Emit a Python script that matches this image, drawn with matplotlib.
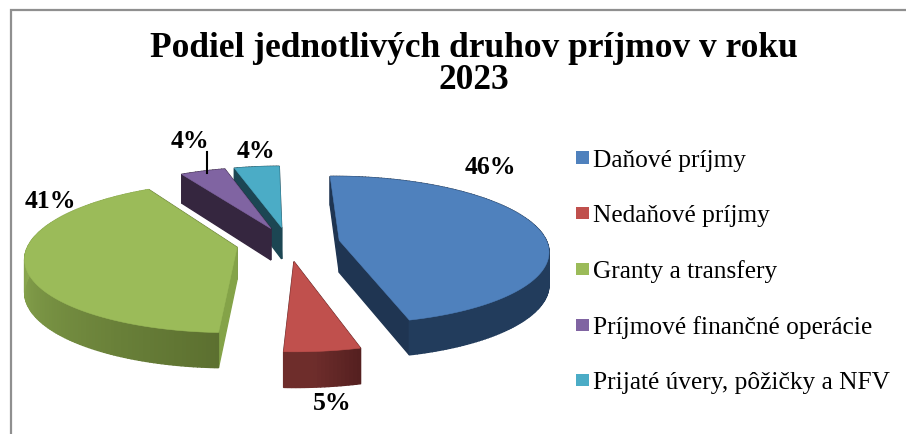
import numpy as np
import matplotlib
matplotlib.use("Agg")
import matplotlib.pyplot as plt
from matplotlib.patches import Polygon, Patch
from matplotlib.colors import to_rgb

categories = ["Daňové príjmy", "Nedaňové príjmy", "Granty a transfery",
              "Príjmové finančné operácie", "Prijaté úvery, pôžičky a NFV"]
values = [46, 5, 41, 4, 4]
title_lines = ["Podiel jednotlivých druhov príjmov v roku", "2023"]

top_colors = ["#4f81bd", "#c0504d", "#9bbb59", "#8064a2", "#4bacc6"]
rim_start = ["#1f3552", "#552020", "#5c7030", "#35263f", "#1c4653"]
rim_end = ["#223c5c", "#6e2d2b", "#8aa84f", "#35263f", "#1c4653"]
edge_colors = ["#1f3552", "#552020", "#84a348", "#35263f", "#1c4653"]

# pie geometry, in pixels of the 906x434 canvas
CX, CY = 288, 243
A, B = 208, 73
PERSP = 0.13
explode = [0.25, 0.25, 0.25, 0.22, 0.22]
START = -1
label_pos = [(490, 168), (332, 404), (50, 202), (190, 141), (256, 152)]


def project(u, v):
    w = 1 + PERSP * v
    return CX + A * u / w, CY - B * v / w


def depth(v):
    return 32 - 3 * v


def mix(c1, c2, t):
    c1, c2 = np.array(to_rgb(c1)), np.array(to_rgb(c2))
    return tuple(c1 + (c2 - c1) * t)


def side_quad(ax, u1, v1, u2, v2, color, zorder):
    x1, y1 = project(u1, v1)
    x2, y2 = project(u2, v2)
    pts = [(x1, y1), (x2, y2), (x2, y2 + depth(v2)), (x1, y1 + depth(v1))]
    ax.add_patch(Polygon(pts, closed=True, fc=color, ec=color, lw=1.0, zorder=zorder))


def draw_wedge(ax, i, start, sweep, zorder):
    mid = np.radians(start + sweep / 2)
    ou, ov = explode[i] * np.sin(mid), explode[i] * np.cos(mid)
    th = np.radians(np.linspace(start, start + sweep, int(sweep) + 2))
    us, vs = ou + np.sin(th), ov + np.cos(th)

    side_quad(ax, ou, ov, us[-1], vs[-1], rim_start[i], zorder)
    side_quad(ax, ou, ov, us[0], vs[0], edge_colors[i], zorder)
    for k in range(len(th) - 1):
        t = min(1, k / (len(th) - 1) / 0.6)
        side_quad(ax, us[k], vs[k], us[k + 1], vs[k + 1],
                  mix(rim_start[i], rim_end[i], t), zorder + 0.1)

    xs, ys = project(np.r_[ou, us], np.r_[ov, vs])
    ax.add_patch(Polygon(np.c_[xs, ys], closed=True, fc=top_colors[i],
                         ec=top_colors[i], lw=0.4, zorder=zorder + 0.2))
    return project(ou + np.sin(mid), ov + np.cos(mid))


fig = plt.figure(figsize=(9.06, 4.34), dpi=100)
ax = fig.add_axes([0, 0, 1, 1])
ax.set_xlim(0, 906)
ax.set_ylim(434, 0)
ax.axis("off")

# chart frame: only left and top survive in the crop
ax.plot([10.5, 10.5, 906], [434, 10, 10], color="#8f8f8f", lw=1.6, solid_joinstyle="miter")

sweeps = [v / sum(values) * 360 for v in values]
starts = START + np.r_[0, np.cumsum(sweeps)[:-1]]
# far slices first so the near ones paint over them
order = [4, 3, 2, 0, 1]
rim_mid = {}
for n, i in enumerate(order):
    rim_mid[i] = draw_wedge(ax, i, starts[i], sweeps[i], 2 + n)

# leader line of the purple slice
ax.plot([207, 207], [152, rim_mid[3][1] + 2], color="black", lw=1.5, zorder=20)

serif = "Liberation Serif"
for i, v in enumerate(values):
    ax.text(label_pos[i][0], label_pos[i][1], f"{v}%", family=serif, weight="bold",
            fontsize=18.5, ha="center", va="center", zorder=30)

ax.text(473.5, 56.7, title_lines[0], family=serif, weight="bold", fontsize=25.5,
        ha="center", va="baseline")
ax.text(473.5, 89, title_lines[1], family=serif, weight="bold", fontsize=25.5,
        ha="center", va="baseline")

handles = [Patch(fc=c, ec="none") for c in top_colors]
ax.legend(handles, categories, loc="upper left", bbox_to_anchor=(576 / 906, 1 - 150 / 434),
          frameon=False, borderpad=0, borderaxespad=0,
          prop={"family": serif, "size": 18.3},
          handlelength=0.5, handleheight=0.4, handletextpad=0.15, labelspacing=1.3)

fig.savefig("out.png", dpi=100)
